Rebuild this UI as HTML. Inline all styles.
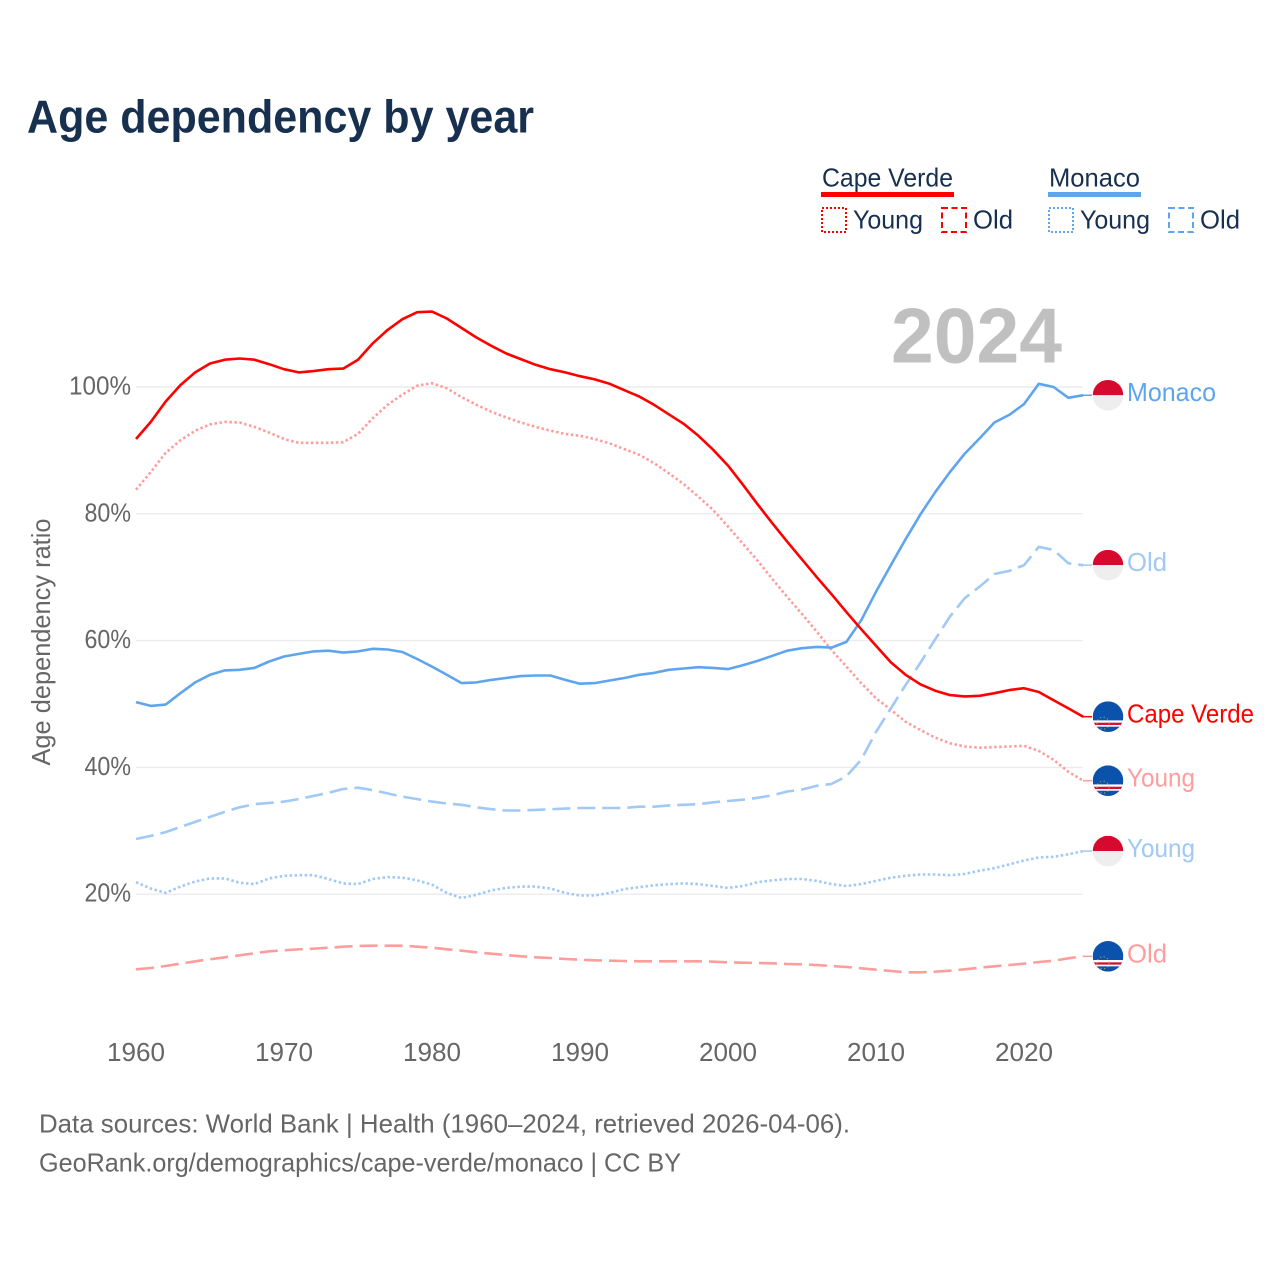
<!DOCTYPE html>
<html lang="en">
<head>
<meta charset="utf-8">
<title>Age dependency by year</title>
<style>
html,body{margin:0;padding:0;background:#fff;}
svg{display:block;font-family:"Liberation Sans",sans-serif;}
</style>
</head>
<body>
<svg id="chart" xmlns="http://www.w3.org/2000/svg" width="1280" height="1280" viewBox="0 0 1280 1280">
  <text x="27" y="132.5" font-size="46" font-weight="700" fill="#18304f" textLength="507" lengthAdjust="spacingAndGlyphs">Age dependency by year</text>

  <g font-size="25.6" fill="#18304f">
    <text x="822" y="186.5" textLength="131" lengthAdjust="spacingAndGlyphs">Cape Verde</text>
    <rect x="821" y="192" width="133" height="5" fill="#ff0000"/>
    <rect x="822" y="208" width="24" height="24" fill="none" stroke="#ff0000" stroke-width="2" stroke-dasharray="2 2"/>
    <text x="853" y="228.5" textLength="70" lengthAdjust="spacingAndGlyphs">Young</text>
    <rect x="942" y="208" width="24" height="24" fill="none" stroke="#ff0000" stroke-width="2" stroke-dasharray="6 3.5"/>
    <text x="973" y="228.5" textLength="40" lengthAdjust="spacingAndGlyphs">Old</text>
    <text x="1049" y="186.5" textLength="91" lengthAdjust="spacingAndGlyphs">Monaco</text>
    <rect x="1048" y="192" width="93" height="5" fill="#5fa5ee"/>
    <rect x="1049" y="208" width="24" height="24" fill="none" stroke="#5fa5ee" stroke-width="2" stroke-dasharray="2 2"/>
    <text x="1080" y="228.5" textLength="70" lengthAdjust="spacingAndGlyphs">Young</text>
    <rect x="1169" y="208" width="24" height="24" fill="none" stroke="#5fa5ee" stroke-width="2" stroke-dasharray="6 3.5"/>
    <text x="1200" y="228.5" textLength="40" lengthAdjust="spacingAndGlyphs">Old</text>
  </g>

  <text transform="translate(50,642) rotate(-90)" text-anchor="middle" font-size="25.6" fill="#666666" textLength="247" lengthAdjust="spacingAndGlyphs">Age dependency ratio</text>

  <g id="grid"></g>
  <g id="yticks"></g>
  <g id="xticks"></g>

  <text x="891" y="362.5" font-size="78" font-weight="700" fill="#c0c0c0" textLength="171" lengthAdjust="spacingAndGlyphs">2024</text>

  <g id="series"></g>
  <g id="ends"></g>

  <g font-size="26" fill="#666666">
    <text x="39" y="1132.5" textLength="811" lengthAdjust="spacingAndGlyphs">Data sources: World Bank | Health (1960–2024, retrieved 2026-04-06).</text>
    <text x="39" y="1171.5" textLength="642" lengthAdjust="spacingAndGlyphs">GeoRank.org/demographics/cape-verde/monaco | CC BY</text>
  </g>
</svg>

<script>
var firstYear = 1960;
var yTickValues = [20, 40, 60, 80, 100];
var yTickLabels = ["20%", "40%", "60%", "80%", "100%"];
var xTickLabels = ["1960", "1970", "1980", "1990", "2000", "2010", "2020"];

var capeVerdeTotal = [
  91.8,94.5,97.7,100.3,102.3,103.7,104.3,104.5,104.3,103.6,
  102.8,102.3,102.5,102.8,102.9,104.3,106.9,109.0,110.7,111.8,
  111.9,110.8,109.3,107.8,106.5,105.3,104.4,103.5,102.8,102.3,
  101.7,101.2,100.5,99.5,98.5,97.2,95.7,94.2,92.3,90.1,
  87.6,84.6,81.5,78.5,75.6,72.8,70.0,67.3,64.5,61.8,
  59.2,56.6,54.6,53.1,52.1,51.4,51.2,51.3,51.7,52.2,
  52.5,51.9,50.6,49.3,48.0];
var capeVerdeYoung = [
  83.8,86.6,89.6,91.6,93.1,94.1,94.5,94.4,93.7,92.8,
  91.8,91.2,91.2,91.2,91.3,92.6,95.1,97.2,98.8,100.2,
  100.6,99.8,98.4,97.2,96.1,95.2,94.4,93.7,93.1,92.6,
  92.3,91.8,91.1,90.2,89.3,88.0,86.4,84.7,82.7,80.6,
  78.0,75.3,72.6,69.7,66.9,64.2,61.4,58.5,55.9,53.3,
  50.9,49.1,47.2,45.9,44.7,43.8,43.3,43.1,43.2,43.3,
  43.4,42.6,41.2,39.3,37.9];
var capeVerdeOld = [
  8.15,8.36,8.68,9.04,9.42,9.73,10.05,10.36,10.68,10.99,
  11.15,11.31,11.4,11.56,11.72,11.83,11.88,11.88,11.88,11.72,
  11.56,11.31,11.09,10.84,10.62,10.41,10.2,10.05,9.94,9.78,
  9.67,9.57,9.51,9.46,9.42,9.42,9.42,9.42,9.42,9.35,
  9.26,9.2,9.15,9.1,8.99,8.94,8.83,8.68,8.52,8.31,
  8.09,7.89,7.68,7.68,7.78,7.93,8.15,8.41,8.63,8.83,
  9.04,9.31,9.51,9.89,10.2];
var monacoTotal = [
  50.3,49.7,49.9,51.7,53.4,54.6,55.3,55.4,55.7,56.7,
  57.5,57.9,58.3,58.4,58.1,58.3,58.7,58.6,58.2,57.1,
  55.9,54.6,53.3,53.4,53.8,54.1,54.4,54.5,54.5,53.8,
  53.2,53.3,53.7,54.1,54.6,54.9,55.4,55.6,55.8,55.7,
  55.5,56.1,56.8,57.6,58.4,58.8,59.0,58.9,59.8,63.2,
  67.7,71.9,76.0,79.9,83.4,86.6,89.5,91.9,94.4,95.6,
  97.3,100.5,100.0,98.3,98.7];
var monacoYoung = [
  21.9,20.9,20.2,21.2,22.0,22.5,22.5,21.8,21.6,22.5,
  22.9,23.0,23.0,22.4,21.7,21.6,22.4,22.7,22.6,22.2,
  21.5,20.2,19.4,19.9,20.6,21.0,21.2,21.2,20.9,20.2,
  19.8,19.8,20.2,20.8,21.1,21.4,21.6,21.7,21.6,21.3,
  21.0,21.3,21.9,22.2,22.4,22.4,22.1,21.6,21.3,21.6,
  22.1,22.6,22.9,23.1,23.1,23.0,23.2,23.7,24.1,24.7,
  25.3,25.8,25.9,26.3,26.8];
var monacoOld = [
  28.7,29.2,29.8,30.6,31.4,32.2,33.0,33.7,34.2,34.4,
  34.6,35.0,35.5,36.0,36.6,36.8,36.4,35.9,35.4,35.0,
  34.6,34.3,34.1,33.7,33.4,33.2,33.2,33.3,33.4,33.5,
  33.6,33.6,33.6,33.6,33.8,33.8,34.0,34.1,34.2,34.5,
  34.7,34.9,35.2,35.6,36.2,36.5,37.1,37.4,38.6,41.2,
  45.6,49.3,53.0,56.5,60.2,63.8,66.7,68.5,70.5,71.0,
  71.9,74.8,74.3,72.2,71.9];

var NS = "http://www.w3.org/2000/svg";
function xScale(year) { return 136 + (year - firstYear) * 14.8; }
function yScale(value) { return 1021 - value * 6.34; }
function make(tag, attrs, parent) {
  var el = document.createElementNS(NS, tag);
  for (var k in attrs) el.setAttribute(k, attrs[k]);
  parent.appendChild(el);
  return el;
}

var gridG = document.getElementById("grid");
var yG = document.getElementById("yticks");
var xG = document.getElementById("xticks");
var seriesG = document.getElementById("series");
var endsG = document.getElementById("ends");

yTickValues.forEach(function (v, i) {
  var line = make("line", {x1: 136, x2: 1083, y1: yScale(v), y2: yScale(v), stroke: "#ececec", "stroke-width": 1.4}, gridG);
  
  
  var label = make("text", {x: 131, y: yScale(v) + 7.5, "text-anchor": "end", "font-size": 25.6, fill: "#666666", "textLength": yTickLabels[i].length * 15.5, lengthAdjust: "spacingAndGlyphs"}, yG);
  
  
  label.textContent = yTickLabels[i];
});

xTickLabels.forEach(function (t) {
  var label = make("text", {x: xScale(+t), y: 1061, "text-anchor": "middle", "font-size": 25.6, fill: "#666666", "textLength": 58, lengthAdjust: "spacingAndGlyphs"}, xG);
  
  
  label.textContent = t;
});

function drawLine(values, color, dash, name) {
  var d = values.map(function (v, i) {
    return (i ? "L" : "M") + xScale(firstYear + i).toFixed(1) + " " + yScale(v).toFixed(1);
  }).join("");
  var attrs = {d: d, fill: "none", stroke: color, "stroke-width": 2.6, "stroke-linejoin": "round"};
  if (dash) attrs["stroke-dasharray"] = dash;
  var path = make("path", attrs, seriesG);
  
  
}

var RED = "#ff0000", LRED = "#ff9d9d", BLUE = "#5fa5ee", LBLUE = "#a0c9f5";
var DOT = "2.5 2.5", DASH = "18 7";
drawLine(capeVerdeYoung, LRED, DOT, "line-cape-verde-young");
drawLine(capeVerdeOld, LRED, DASH, "line-cape-verde-old");
drawLine(monacoYoung, LBLUE, DOT, "line-monaco-young");
drawLine(monacoOld, LBLUE, DASH, "line-monaco-old");
drawLine(monacoTotal, BLUE, null, "line-monaco-total");
drawLine(capeVerdeTotal, RED, null, "line-cape-verde-total");

var clipCount = 0;
function drawFlag(country, y) {
  var cx = 1108, r = 15.3;
  var g = make("g", {}, endsG);
  
  
  var id = "flag-clip-" + (clipCount++);
  var defs = make("defs", {}, g);
  var clip = make("clipPath", {id: id}, defs);
  make("circle", {cx: cx, cy: y, r: r}, clip);
  var inner = make("g", {"clip-path": "url(#" + id + ")"}, g);
  if (country === "monaco") {
    make("rect", {x: cx - r, y: y - r, width: 2 * r, height: r, fill: "#d60a2e"}, inner);
    make("rect", {x: cx - r, y: y, width: 2 * r, height: r, fill: "#eeeeee"}, inner);
  } else {
    make("rect", {x: cx - r, y: y - r, width: 2 * r, height: 2 * r, fill: "#0b52ad"}, inner);
    make("rect", {x: cx - r, y: y + 3.7, width: 2 * r, height: 6.3, fill: "#ffffff"}, inner);
    make("rect", {x: cx - r, y: y + 6, width: 2 * r, height: 2.3, fill: "#d21034"}, inner);
    make("circle", {cx: cx - 5, cy: y + 6.5, r: 6, fill: "none", stroke: "#d8b84a", "stroke-width": 1.2, "stroke-dasharray": "1 2.6", opacity: 0.8}, inner);
  }
}

function drawEnd(values, country, text, color, width) {
  var y = yScale(values[values.length - 1]);
  var conn = make("line", {x1: 1083, x2: 1092, y1: y, y2: y, stroke: color, "stroke-width": 1.5}, endsG);
  
  
  drawFlag(country, y);
  var label = make("text", {x: 1127, y: y + 6, "font-size": 25.6, fill: color, "textLength": width, lengthAdjust: "spacingAndGlyphs"}, endsG);
  
  
  label.textContent = text;
}

drawEnd(monacoTotal, "monaco", "Monaco", BLUE, 89);
drawEnd(monacoOld, "monaco", "Old", LBLUE, 40);
drawEnd(capeVerdeTotal, "cape-verde", "Cape Verde", RED, 127);
drawEnd(capeVerdeYoung, "cape-verde", "Young", LRED, 68);
drawEnd(monacoYoung, "monaco", "Young", LBLUE, 68);
drawEnd(capeVerdeOld, "cape-verde", "Old", LRED, 40);
</script>
</body>
</html>
